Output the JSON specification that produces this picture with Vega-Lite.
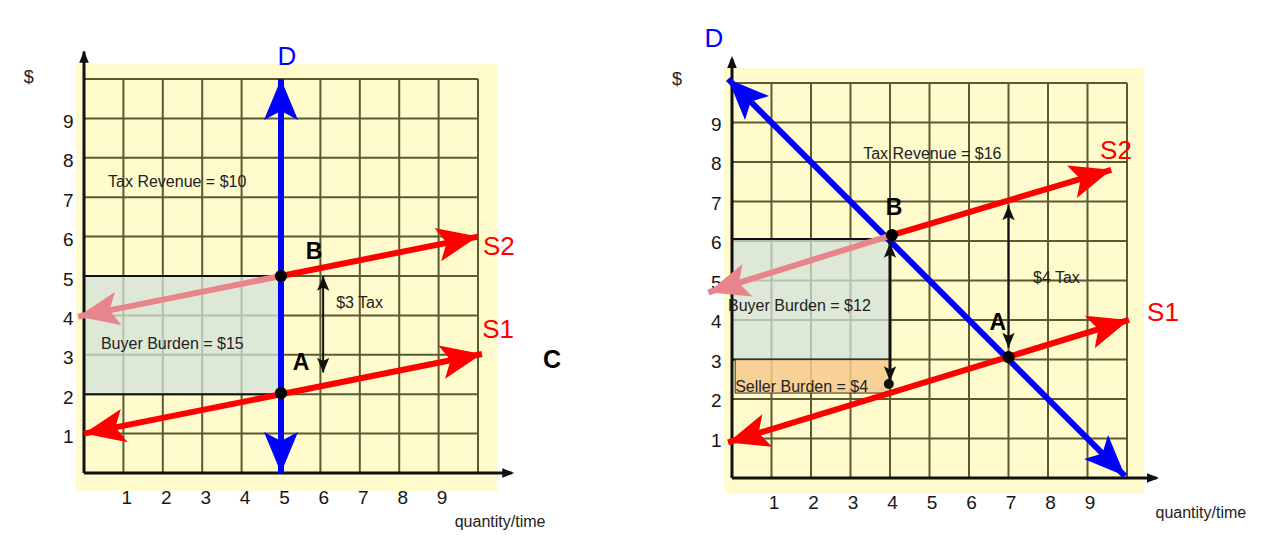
{
  "$schema": "https://vega.github.io/schema/vega-lite/v6.json",
  "background": "white",
  "padding": {"left": 23, "top": 26, "right": 5, "bottom": 5},
  "spacing": 254,
  "bounds": "flush",
  "resolve": {"scale": {"angle": "independent", "color": "independent"}},
  "config": {
    "view": {"stroke": null},
    "text": {"font": "Liberation Sans"},
    "axis": {"labelFont": "Liberation Sans", "labelFontSize": 19, "labelColor": "#161616", "domain": false, "ticks": false, "grid": false}
  },
  "hconcat": [
    {
      "width": 394,
      "height": 394,
      "encoding": {
        "x": {"field": "x", "type": "quantitative", "scale": {"domain": [0, 10], "nice": false, "zero": false}, "axis": {"values": [1, 2, 3, 4, 5, 6, 7, 8, 9], "title": null, "labelPadding": 15, "labelOffset": 3}},
        "y": {"field": "y", "type": "quantitative", "scale": {"domain": [0, 10], "nice": false, "zero": false}, "axis": {"values": [1, 2, 3, 4, 5, 6, 7, 8, 9], "title": null, "labelPadding": 11, "labelOffset": 3}}
      },
      "layer": [
        {
          "data": {"values": [{"x": -0.2, "x2": 10.5, "y": -0.46, "y2": 10.38}]},
          "mark": {"type": "rect", "color": "#fffbcc"},
          "encoding": {"x2": {"field": "x2"}, "y2": {"field": "y2"}}
        },
        {
          "data": {"values": [
            {"x": 1, "y": 0, "x2": 1, "y2": 10}, {"x": 2, "y": 0, "x2": 2, "y2": 10}, {"x": 3, "y": 0, "x2": 3, "y2": 10}, {"x": 4, "y": 0, "x2": 4, "y2": 10}, {"x": 5, "y": 0, "x2": 5, "y2": 10},
            {"x": 6, "y": 0, "x2": 6, "y2": 10}, {"x": 7, "y": 0, "x2": 7, "y2": 10}, {"x": 8, "y": 0, "x2": 8, "y2": 10}, {"x": 9, "y": 0, "x2": 9, "y2": 10}, {"x": 10, "y": 0, "x2": 10, "y2": 10},
            {"x": 0, "y": 1, "x2": 10, "y2": 1}, {"x": 0, "y": 2, "x2": 10, "y2": 2}, {"x": 0, "y": 3, "x2": 10, "y2": 3}, {"x": 0, "y": 4, "x2": 10, "y2": 4}, {"x": 0, "y": 5, "x2": 10, "y2": 5},
            {"x": 0, "y": 6, "x2": 10, "y2": 6}, {"x": 0, "y": 7, "x2": 10, "y2": 7}, {"x": 0, "y": 8, "x2": 10, "y2": 8}, {"x": 0, "y": 9, "x2": 10, "y2": 9}, {"x": 0, "y": 10, "x2": 10, "y2": 10}
          ]},
          "mark": {"type": "rule", "color": "#5c5a30", "strokeWidth": 2},
          "encoding": {"x2": {"field": "x2"}, "y2": {"field": "y2"}}
        },
        {
          "data": {"values": [{"x": 0, "x2": 5, "y": 2, "y2": 5}]},
          "mark": {"type": "rect", "fill": "#d3e2da", "fillOpacity": 0.75, "stroke": "#111111", "strokeWidth": 2},
          "encoding": {"x2": {"field": "x2"}, "y2": {"field": "y2"}}
        },
        {
          "data": {"values": [{"x": 0, "y": 0, "x2": 0, "y2": 10.7}, {"x": 0, "y": 0, "x2": 10.85, "y2": 0}]},
          "mark": {"type": "rule", "color": "#111111", "strokeWidth": 3},
          "encoding": {"x2": {"field": "x2"}, "y2": {"field": "y2"}}
        },
        {
          "data": {"values": [{"head": "up", "x": 0, "y": 10.72}, {"head": "right", "x": 10.92, "y": 0}]},
          "mark": {"type": "point", "shape": "M0,0L0.6,1.5L-0.6,1.5Z", "filled": true, "opacity": 1, "size": 256, "color": "#111111", "strokeWidth": 0},
          "encoding": {"angle": {"field": "head", "type": "nominal", "scale": {"type": "ordinal", "domain": ["up", "down", "right", "left", "sr", "sl"], "range": [0, 180, 90, 270, 78.7, 258.7]}, "legend": null}}
        },
        {
          "data": {"values": [
            {"curve": "D", "x": 5, "y": 0, "x2": 5, "y2": 10},
            {"curve": "S2 left", "x": 5, "y": 5, "x2": -0.15, "y2": 3.97},
            {"curve": "S1", "x": 0, "y": 1, "x2": 10.1, "y2": 3.02},
            {"curve": "S2", "x": 5, "y": 5, "x2": 10, "y2": 6}
          ]},
          "mark": {"type": "rule", "strokeWidth": 6},
          "encoding": {
            "x2": {"field": "x2"}, "y2": {"field": "y2"},
            "color": {"field": "curve", "type": "nominal", "scale": {"domain": ["D", "S1", "S2", "S2 left"], "range": ["#0000ff", "#ff0000", "#ff0000", "#e8848c"]}, "legend": null}
          }
        },
        {
          "data": {"values": [
            {"curve": "D", "head": "up", "x": 5, "y": 10},
            {"curve": "D", "head": "down", "x": 5, "y": 0},
            {"curve": "S1", "head": "sr", "x": 10.1, "y": 3.02},
            {"curve": "S1", "head": "sl", "x": 0, "y": 1},
            {"curve": "S2", "head": "sr", "x": 10, "y": 6},
            {"curve": "S2 left", "head": "sl", "x": -0.15, "y": 3.97}
          ]},
          "mark": {"type": "point", "shape": "M0,0L0.85,2.05L0,1.6L-0.85,2.05Z", "filled": true, "opacity": 1, "size": 1600, "strokeWidth": 0},
          "encoding": {
            "color": {"field": "curve", "type": "nominal", "scale": {"domain": ["D", "S1", "S2", "S2 left"], "range": ["#0000ff", "#ff0000", "#ff0000", "#e8848c"]}, "legend": null},
            "angle": {"field": "head", "type": "nominal", "scale": {"type": "ordinal", "domain": ["up", "down", "right", "left", "sr", "sl"], "range": [0, 180, 90, 270, 78.7, 258.7]}, "legend": null}
          }
        },
        {
          "data": {"values": [{"x": 6.07, "y": 5.0, "x2": 6.07, "y2": 2.55}]},
          "mark": {"type": "rule", "color": "#111111", "strokeWidth": 2},
          "encoding": {"x2": {"field": "x2"}, "y2": {"field": "y2"}}
        },
        {
          "data": {"values": [{"head": "up", "x": 6.07, "y": 5.0}, {"head": "down", "x": 6.07, "y": 2.55}]},
          "mark": {"type": "point", "shape": "M0,0L0.85,2.05L0,1.6L-0.85,2.05Z", "filled": true, "opacity": 1, "size": 210, "color": "#111111", "strokeWidth": 0},
          "encoding": {"angle": {"field": "head", "type": "nominal", "scale": {"type": "ordinal", "domain": ["up", "down", "right", "left", "sr", "sl"], "range": [0, 180, 90, 270, 78.7, 258.7]}, "legend": null}}
        },
        {
          "data": {"values": [{"x": 5, "y": 5}, {"x": 5, "y": 2.03}]},
          "mark": {"type": "point", "shape": "circle", "filled": true, "opacity": 1, "size": 150, "color": "#000000"}
        },
        {
          "data": {"values": [
            {"label": "Tax Revenue = $10", "x": 0.61, "y": 7.39},
            {"label": "Buyer Burden = $15", "x": 0.43, "y": 3.27},
            {"label": "$3 Tax", "x": 6.4, "y": 4.31}
          ]},
          "mark": {"type": "text", "fontSize": 16, "align": "left", "baseline": "middle", "color": "#222222"},
          "encoding": {"text": {"field": "label"}}
        },
        {
          "data": {"values": [
            {"label": "D", "curve": "D", "x": 5.15, "y": 10.56},
            {"label": "S2", "curve": "S2", "x": 10.53, "y": 5.74},
            {"label": "S1", "curve": "S1", "x": 10.51, "y": 3.63}
          ]},
          "mark": {"type": "text", "fontSize": 26, "align": "center", "baseline": "middle"},
          "encoding": {
            "text": {"field": "label"},
            "color": {"field": "curve", "type": "nominal", "scale": {"domain": ["D", "S1", "S2", "S2 left"], "range": ["#0000ff", "#ff0000", "#ff0000", "#e8848c"]}, "legend": null}
          }
        },
        {
          "data": {"values": [{"label": "B", "x": 5.84, "y": 5.61}, {"label": "A", "x": 5.51, "y": 2.79}]},
          "mark": {"type": "text", "fontSize": 23, "fontWeight": "bold", "align": "center", "baseline": "middle", "color": "#000000"},
          "encoding": {"text": {"field": "label"}}
        },
        {
          "data": {"values": [{"label": "C", "x": 11.88, "y": 2.87}]},
          "mark": {"type": "text", "fontSize": 25, "fontWeight": "bold", "align": "center", "baseline": "middle", "color": "#000000"},
          "encoding": {"text": {"field": "label"}}
        },
        {
          "data": {"values": [{"label": "$", "x": -1.4, "y": 10.03}]},
          "mark": {"type": "text", "fontSize": 18, "align": "center", "baseline": "middle", "color": "#222222"},
          "encoding": {"text": {"field": "label"}}
        },
        {
          "data": {"values": [{"label": "quantity/time", "x": 10.56, "y": -1.24}]},
          "mark": {"type": "text", "fontSize": 16, "align": "center", "baseline": "middle", "color": "#222222"},
          "encoding": {"text": {"field": "label"}}
        }
      ]
    },
    {
      "width": 395,
      "height": 399,
      "encoding": {
        "x": {"field": "x", "type": "quantitative", "scale": {"domain": [0, 10], "nice": false, "zero": false}, "axis": {"values": [1, 2, 3, 4, 5, 6, 7, 8, 9], "title": null, "labelPadding": 15, "labelOffset": 2}},
        "y": {"field": "y", "type": "quantitative", "scale": {"domain": [0, 10.1], "nice": false, "zero": false}, "axis": {"values": [1, 2, 3, 4, 5, 6, 7, 8, 9], "title": null, "labelPadding": 11, "labelOffset": 2}}
      },
      "layer": [
        {
          "data": {"values": [{"x": -0.2, "x2": 10.43, "y": -0.38, "y2": 10.38}]},
          "mark": {"type": "rect", "color": "#fffbcc"},
          "encoding": {"x2": {"field": "x2"}, "y2": {"field": "y2"}}
        },
        {
          "data": {"values": [
            {"x": 1, "y": 0, "x2": 1, "y2": 10}, {"x": 2, "y": 0, "x2": 2, "y2": 10}, {"x": 3, "y": 0, "x2": 3, "y2": 10}, {"x": 4, "y": 0, "x2": 4, "y2": 10}, {"x": 5, "y": 0, "x2": 5, "y2": 10},
            {"x": 6, "y": 0, "x2": 6, "y2": 10}, {"x": 7, "y": 0, "x2": 7, "y2": 10}, {"x": 8, "y": 0, "x2": 8, "y2": 10}, {"x": 9, "y": 0, "x2": 9, "y2": 10}, {"x": 10, "y": 0, "x2": 10, "y2": 10},
            {"x": 0, "y": 1, "x2": 10, "y2": 1}, {"x": 0, "y": 2, "x2": 10, "y2": 2}, {"x": 0, "y": 3, "x2": 10, "y2": 3}, {"x": 0, "y": 4, "x2": 10, "y2": 4}, {"x": 0, "y": 5, "x2": 10, "y2": 5},
            {"x": 0, "y": 6, "x2": 10, "y2": 6}, {"x": 0, "y": 7, "x2": 10, "y2": 7}, {"x": 0, "y": 8, "x2": 10, "y2": 8}, {"x": 0, "y": 9, "x2": 10, "y2": 9}, {"x": 0, "y": 10, "x2": 10, "y2": 10}
          ]},
          "mark": {"type": "rule", "color": "#5c5a30", "strokeWidth": 2},
          "encoding": {"x2": {"field": "x2"}, "y2": {"field": "y2"}}
        },
        {
          "data": {"values": [{"x": 0, "x2": 4, "y": 3, "y2": 6.05}]},
          "mark": {"type": "rect", "fill": "#d3e2da", "fillOpacity": 0.75, "stroke": "#111111", "strokeWidth": 2},
          "encoding": {"x2": {"field": "x2"}, "y2": {"field": "y2"}}
        },
        {
          "data": {"values": [{"x": 0.08, "x2": 4, "y": 2.15, "y2": 3}]},
          "mark": {"type": "rect", "fill": "#f6c98c", "fillOpacity": 0.85, "stroke": "#333333", "strokeWidth": 1},
          "encoding": {"x2": {"field": "x2"}, "y2": {"field": "y2"}}
        },
        {
          "data": {"values": [{"x": 0, "y": 0, "x2": 0, "y2": 10.6}, {"x": 0, "y": 0, "x2": 10.75, "y2": 0}]},
          "mark": {"type": "rule", "color": "#111111", "strokeWidth": 3},
          "encoding": {"x2": {"field": "x2"}, "y2": {"field": "y2"}}
        },
        {
          "data": {"values": [{"head": "up", "x": 0, "y": 10.68}, {"head": "right", "x": 10.81, "y": 0}]},
          "mark": {"type": "point", "shape": "M0,0L0.6,1.5L-0.6,1.5Z", "filled": true, "opacity": 1, "size": 256, "color": "#111111", "strokeWidth": 0},
          "encoding": {"angle": {"field": "head", "type": "nominal", "scale": {"type": "ordinal", "domain": ["up", "down", "right", "left", "sr", "sl", "ul", "dr"], "range": [0, 180, 90, 270, 73, 253, 315, 135]}, "legend": null}}
        },
        {
          "data": {"values": [
            {"curve": "D", "x": -0.1, "y": 10.1, "x2": 9.95, "y2": 0.05},
            {"curve": "S2 left", "x": 4.05, "y": 6.15, "x2": -0.6, "y2": 4.7},
            {"curve": "S1", "x": -0.1, "y": 0.9, "x2": 10.05, "y2": 4.0},
            {"curve": "S2", "x": 4.05, "y": 6.15, "x2": 9.6, "y2": 7.8}
          ]},
          "mark": {"type": "rule", "strokeWidth": 6},
          "encoding": {
            "x2": {"field": "x2"}, "y2": {"field": "y2"},
            "color": {"field": "curve", "type": "nominal", "scale": {"domain": ["D", "S1", "S2", "S2 left"], "range": ["#0000ff", "#ff0000", "#ff0000", "#e8848c"]}, "legend": null}
          }
        },
        {
          "data": {"values": [
            {"curve": "D", "head": "ul", "x": -0.1, "y": 10.1},
            {"curve": "D", "head": "dr", "x": 9.95, "y": 0.05},
            {"curve": "S1", "head": "sr", "x": 10.05, "y": 4.0},
            {"curve": "S1", "head": "sl", "x": -0.1, "y": 0.9},
            {"curve": "S2", "head": "sr", "x": 9.6, "y": 7.8},
            {"curve": "S2 left", "head": "sl", "x": -0.6, "y": 4.7}
          ]},
          "mark": {"type": "point", "shape": "M0,0L0.85,2.05L0,1.6L-0.85,2.05Z", "filled": true, "opacity": 1, "size": 1600, "strokeWidth": 0},
          "encoding": {
            "color": {"field": "curve", "type": "nominal", "scale": {"domain": ["D", "S1", "S2", "S2 left"], "range": ["#0000ff", "#ff0000", "#ff0000", "#e8848c"]}, "legend": null},
            "angle": {"field": "head", "type": "nominal", "scale": {"type": "ordinal", "domain": ["up", "down", "right", "left", "sr", "sl", "ul", "dr"], "range": [0, 180, 90, 270, 73, 253, 315, 135]}, "legend": null}
          }
        },
        {
          "data": {"values": [{"x": 4, "y": 6.05, "x2": 4, "y2": 2.45}]},
          "mark": {"type": "rule", "color": "#111111", "strokeWidth": 3},
          "encoding": {"x2": {"field": "x2"}, "y2": {"field": "y2"}}
        },
        {
          "data": {"values": [{"x": 7, "y": 6.9, "x2": 7, "y2": 3.3}]},
          "mark": {"type": "rule", "color": "#111111", "strokeWidth": 2},
          "encoding": {"x2": {"field": "x2"}, "y2": {"field": "y2"}}
        },
        {
          "data": {"values": [{"head": "up", "x": 4, "y": 5.95}, {"head": "down", "x": 4, "y": 2.45}, {"head": "up", "x": 7, "y": 6.9}, {"head": "down", "x": 7, "y": 3.3}]},
          "mark": {"type": "point", "shape": "M0,0L0.85,2.05L0,1.6L-0.85,2.05Z", "filled": true, "opacity": 1, "size": 210, "color": "#111111", "strokeWidth": 0},
          "encoding": {"angle": {"field": "head", "type": "nominal", "scale": {"type": "ordinal", "domain": ["up", "down", "right", "left", "sr", "sl", "ul", "dr"], "range": [0, 180, 90, 270, 73, 253, 315, 135]}, "legend": null}}
        },
        {
          "data": {"values": [{"x": 4.05, "y": 6.15}, {"x": 7, "y": 3.06}]},
          "mark": {"type": "point", "shape": "circle", "filled": true, "opacity": 1, "size": 150, "color": "#000000"}
        },
        {
          "data": {"values": [{"x": 3.97, "y": 2.38}]},
          "mark": {"type": "point", "shape": "circle", "filled": true, "opacity": 1, "size": 100, "color": "#111111"}
        },
        {
          "data": {"values": [
            {"label": "Tax Revenue = $16", "x": 3.32, "y": 8.2},
            {"label": "Buyer Burden = $12", "x": -0.1, "y": 4.35},
            {"label": "Seller Burden = $4", "x": 0.08, "y": 2.3},
            {"label": "$4 Tax", "x": 7.62, "y": 5.06}
          ]},
          "mark": {"type": "text", "fontSize": 16, "align": "left", "baseline": "middle", "color": "#222222"},
          "encoding": {"text": {"field": "label"}}
        },
        {
          "data": {"values": [
            {"label": "D", "curve": "D", "x": -0.46, "y": 11.11},
            {"label": "S2", "curve": "S2", "x": 9.72, "y": 8.28},
            {"label": "S1", "curve": "S1", "x": 10.91, "y": 4.18}
          ]},
          "mark": {"type": "text", "fontSize": 26, "align": "center", "baseline": "middle"},
          "encoding": {
            "text": {"field": "label"},
            "color": {"field": "curve", "type": "nominal", "scale": {"domain": ["D", "S1", "S2", "S2 left"], "range": ["#0000ff", "#ff0000", "#ff0000", "#e8848c"]}, "legend": null}
          }
        },
        {
          "data": {"values": [{"label": "B", "x": 4.1, "y": 6.84}, {"label": "A", "x": 6.73, "y": 3.92}]},
          "mark": {"type": "text", "fontSize": 23, "fontWeight": "bold", "align": "center", "baseline": "middle", "color": "#000000"},
          "encoding": {"text": {"field": "label"}}
        },
        {
          "data": {"values": [{"label": "$", "x": -1.39, "y": 10.08}]},
          "mark": {"type": "text", "fontSize": 18, "align": "center", "baseline": "middle", "color": "#222222"},
          "encoding": {"text": {"field": "label"}}
        },
        {
          "data": {"values": [{"label": "quantity/time", "x": 11.87, "y": -0.89}]},
          "mark": {"type": "text", "fontSize": 16, "align": "center", "baseline": "middle", "color": "#222222"},
          "encoding": {"text": {"field": "label"}}
        }
      ]
    }
  ]
}
